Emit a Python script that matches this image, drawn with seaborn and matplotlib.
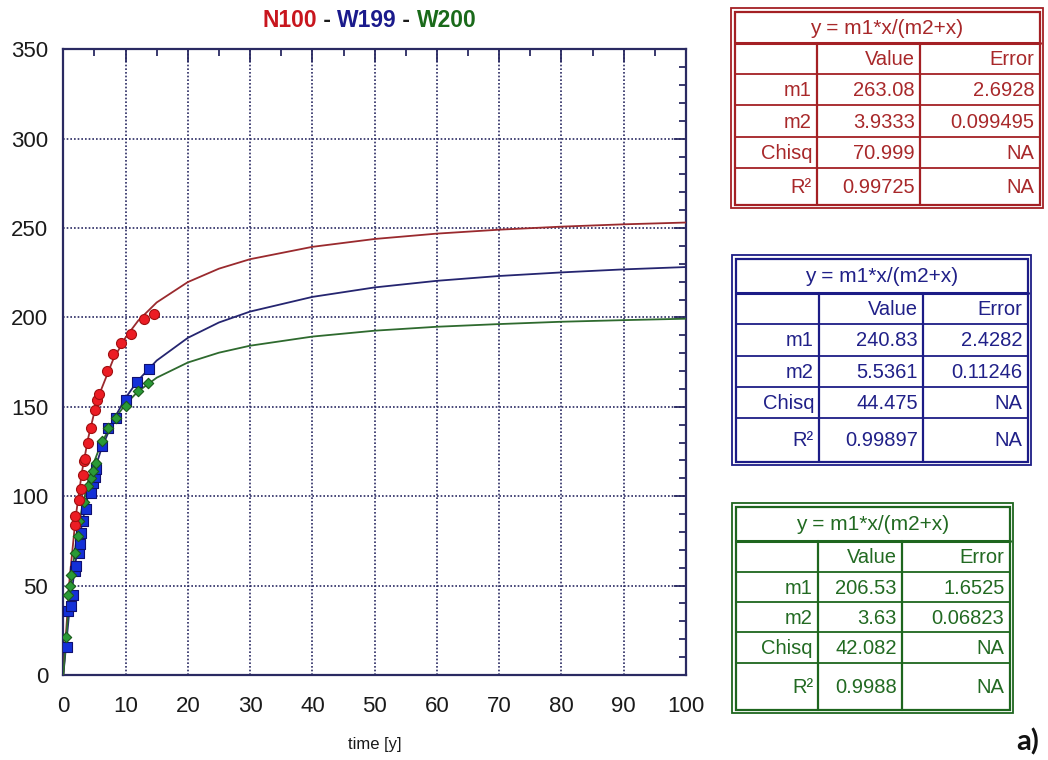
import numpy as np
import pandas as pd
import matplotlib
matplotlib.use("Agg")
import matplotlib.pyplot as plt
import seaborn as sns
from matplotlib.ticker import MultipleLocator
from matplotlib.patches import Rectangle

# ---------------- data ----------------
n100_t = [1.8, 1.9, 2.45, 2.8, 3.1, 3.3, 3.5, 3.9, 4.4, 5.05, 5.4, 5.7, 7.0, 8.0, 9.3, 10.9, 12.9, 14.5]
n100_y = [84, 89, 98, 104, 112, 119.5, 121, 130, 138, 148, 154, 157, 170, 179.5, 185.5, 191, 199, 202]

w199_t = [0.55, 0.8, 1.17, 1.5, 1.86, 2.0, 2.45, 2.65, 2.8, 3.2, 3.7, 4.4, 4.8, 5.05, 5.2, 6.2, 7.2, 8.4, 10.0, 11.9, 13.7]
w199_y = [15.4, 36, 38.7, 45, 58, 61, 68, 73, 79.6, 86, 92.6, 102, 107.5, 111, 115, 128, 138, 144, 154, 164, 171]

w200_t = [0.5, 0.8, 1.06, 1.3, 1.86, 2.3, 2.55, 3.3, 4.0, 4.5, 4.8, 5.3, 6.2, 7.1, 8.5, 10.0, 12.0, 13.6]
w200_y = [21, 45, 49.8, 55.8, 68, 77.7, 86, 96.7, 105.6, 110, 114, 118.6, 131, 138, 143.7, 150.6, 159, 163.6]

curve_t = [0, 1, 2, 3, 4, 5, 6, 8, 10, 12, 15, 20, 25, 30, 40, 50, 60, 70, 80, 90, 100]
n100_fit = [0, 53.3, 88.7, 113.8, 132.6, 147.2, 158.9, 176.4, 188.8, 198.1, 208.4, 219.8, 227.3, 232.6,
            239.5, 243.9, 246.9, 249.1, 250.8, 252.1, 253.1]
w199_fit = [0, 36.8, 63.9, 84.6, 101.0, 114.3, 125.3, 142.3, 155.0, 164.8, 175.9, 188.6, 197.2, 203.3,
            211.5, 216.8, 220.5, 223.2, 225.2, 226.9, 228.2]
w200_fit = [0, 44.6, 73.4, 93.5, 108.3, 119.7, 128.7, 142.1, 151.5, 158.6, 166.3, 174.8, 180.3, 184.2,
            189.3, 192.6, 194.8, 196.3, 197.6, 198.5, 199.3]

series_names = ["N100", "W199", "W200"]
x_ticks = [0, 10, 20, 30, 40, 50, 60, 70, 80, 90, 100]
y_ticks = [0, 50, 100, 150, 200, 250, 300, 350]

fit_equation = "y = m1*x/(m2+x)"
table_cols = ["", "Value", "Error"]
table_rows = ["m1", "m2", "Chisq", "R²"]
n100_value = ["263.08", "3.9333", "70.999", "0.99725"]
n100_error = ["2.6928", "0.099495", "NA", "NA"]
w199_value = ["240.83", "5.5361", "44.475", "0.99897"]
w199_error = ["2.4282", "0.11246", "NA", "NA"]
w200_value = ["206.53", "3.63", "42.082", "0.9988"]
w200_error = ["1.6525", "0.06823", "NA", "NA"]

# ---------------- styling ----------------
sns.set_style("white")
plt.rcParams['font.family'] = ['Liberation Sans', 'DejaVu Sans']

W, H = 1048, 760
fig = plt.figure(figsize=(W / 100, H / 100), dpi=100)

def fx(px):
    return px / W

def fy(py):
    return 1 - py / H

ax_top, ax_bot = 49.3, 675
ax = fig.add_axes([fx(63.3), fy(ax_bot), fx(686) - fx(63.3), fy(ax_top) - fy(ax_bot)])

navy = "#2a2a62"
red_line, blue_line, green_line = "#9a2a2e", "#252570", "#2e6a2e"
red_fill, blue_fill, green_fill = "#ec1c24", "#1430d8", "#2a9a36"
red_edge, blue_edge, green_edge = "#a01010", "#101070", "#1a5a1a"

curves = pd.DataFrame({"t": curve_t * 3,
                       "y": n100_fit + w199_fit + w200_fit,
                       "s": ["N100"] * len(curve_t) + ["W199"] * len(curve_t) + ["W200"] * len(curve_t)})
sns.lineplot(data=curves, x="t", y="y", hue="s",
             palette={"N100": red_line, "W199": blue_line, "W200": green_line},
             linewidth=1.3, legend=False, ax=ax, zorder=3)

sns.scatterplot(x=w199_t, y=w199_y, marker="s", s=46, color=blue_fill, edgecolor=blue_edge,
                linewidth=0.8, ax=ax, zorder=4)
sns.scatterplot(x=w200_t, y=w200_y, marker="D", s=28, color=green_fill, edgecolor=green_edge,
                linewidth=0.8, ax=ax, zorder=5)
sns.scatterplot(x=n100_t, y=n100_y, marker="o", s=52, color=red_fill, edgecolor=red_edge,
                linewidth=0.8, ax=ax, zorder=6)

ax.set_xlim(0, 100)
ax.set_ylim(0, 350)
ax.set_xticks(x_ticks)
ax.set_yticks(y_ticks)
ax.xaxis.set_minor_locator(MultipleLocator(5))
ax.yaxis.set_minor_locator(MultipleLocator(10))
ax.tick_params(which="both", direction="in", top=True, right=True, color=navy, width=1.3)
ax.tick_params(which="major", length=9, labelsize=16, labelcolor="#1a1a1a")
ax.tick_params(axis="x", which="major", pad=15)
ax.tick_params(axis="y", which="major", pad=11)
ax.tick_params(which="minor", length=5)
ax.grid(True, which="major", color=navy, linestyle=(0, (1, 1.2)), linewidth=1.2)
for sp in ax.spines.values():
    sp.set_color(navy)
    sp.set_linewidth(1.6)
ax.set_xlabel("time [y]", fontsize=12, color="#1a1a1a")
ax.xaxis.set_label_coords(0.5, (ax_bot - 745) / (ax_bot - ax_top))
ax.xaxis.label.set_va("center")
ax.set_ylabel("")

# ---------------- coloured title ----------------
title_parts = [("N100", "#c8161e"), (" - ", "#1a1a1a"), ("W199", "#1a1a8c"),
               (" - ", "#1a1a1a"), ("W200", "#1a6a1a")]
t = fig.text(fx(262), fy(27), title_parts[0][0], color=title_parts[0][1], fontsize=16.5,
             fontweight="bold", ha="left", va="baseline")
prev = t
for txt, col in title_parts[1:]:
    prev = ax.annotate(txt, xy=(1, 0), xycoords=prev, xytext=(0, 0), textcoords="offset points",
                       color=col, fontsize=16.5, fontweight="bold", ha="left", va="bottom",
                       annotation_clip=False)

# ---------------- fit tables ----------------
ov = fig.add_axes([0, 0, 1, 1], zorder=10)
ov.set_xlim(0, W)
ov.set_ylim(H, 0)
ov.axis("off")


def draw_table(x0, y0, x1, y1, rows_y, cols_x, color, txtcolor, values, errors):
    ov.add_patch(Rectangle((x0, y0), x1 - x0, y1 - y0, fill=False, ec=color, lw=1.3))
    i0, j0, i1, j1 = x0 + 3.5, y0 + 3.5, x1 - 3.5, y1 - 3.5
    ov.add_patch(Rectangle((i0, j0), i1 - i0, j1 - j0, fill=False, ec=color, lw=1.6))
    for k, ry in enumerate(rows_y):
        ov.plot([i0, i1], [ry, ry], color=color, lw=2.2 if k == 0 else 1.3)
    for cx in cols_x:
        ov.plot([cx, cx], [rows_y[0], j1], color=color, lw=1.6)
    fs = 14.5
    ov.text((i0 + i1) / 2, (j0 + rows_y[0]) / 2 + 1, fit_equation, ha="center", va="center",
            fontsize=15, color=txtcolor)
    col_right = [cols_x[0] - 5, cols_x[1] - 5, i1 - 5]
    bounds = list(rows_y) + [j1]
    ov.text(col_right[1], (bounds[0] + bounds[1]) / 2 + 1, table_cols[1], ha="right", va="center",
            fontsize=fs, color=txtcolor)
    ov.text(col_right[2], (bounds[0] + bounds[1]) / 2 + 1, table_cols[2], ha="right", va="center",
            fontsize=fs, color=txtcolor)
    for r in range(4):
        yc = (bounds[r + 1] + bounds[r + 2]) / 2 + 1
        ov.text(col_right[0], yc, table_rows[r], ha="right", va="center", fontsize=fs, color=txtcolor)
        ov.text(col_right[1], yc, values[r], ha="right", va="center", fontsize=fs, color=txtcolor)
        ov.text(col_right[2], yc, errors[r], ha="right", va="center", fontsize=fs, color=txtcolor)


draw_table(731, 8, 1043, 208, [43, 74, 105, 137, 168], [817, 920], "#a42024", "#a8282a",
           n100_value, n100_error)
draw_table(732, 255, 1031, 465, [293, 324, 356, 387, 418], [819, 923], "#1c1c86", "#202088",
           w199_value, w199_error)
draw_table(732, 503, 1013, 713, [541, 572, 602, 632, 663], [818, 902], "#1e661e", "#226a22",
           w200_value, w200_error)

ov.text(1039, 742, "a)", ha="right", va="center", fontsize=21, fontweight="bold",
        family=["Lato", "DejaVu Sans"], color="#111111")

fig.savefig("out.png", dpi=100)
